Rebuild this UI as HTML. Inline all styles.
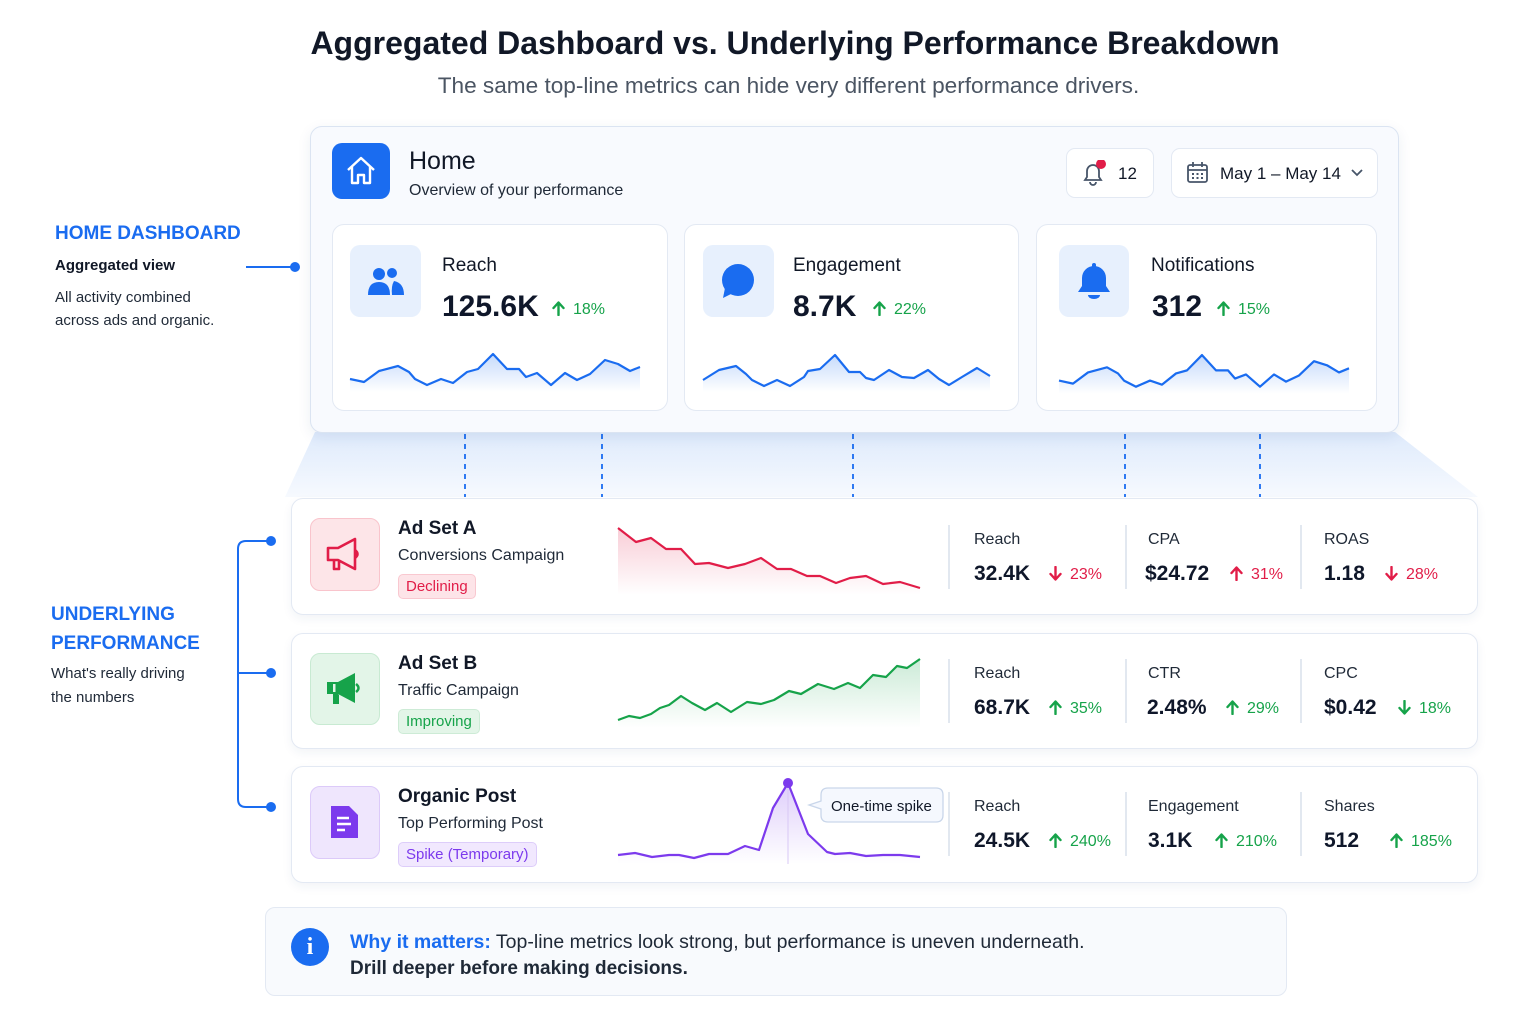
<!DOCTYPE html>
<html><head><meta charset="utf-8"><style>
*{margin:0;padding:0;box-sizing:border-box}
body{width:1536px;height:1024px;background:#fff;font-family:"Liberation Sans",sans-serif;color:#111827;position:relative;overflow:hidden}
.a{position:absolute}
.card{position:absolute;background:#fff;border:1.5px solid #e3e9f3;border-radius:12px}
.lbl{font-size:19px;color:#111827}
.val{font-size:30px;font-weight:bold;color:#0f172a}
.up{color:#16a34a;font-size:16px}
.dn{color:#e11d48;font-size:16px}
.ml{font-size:16px;color:#1f2937}
.mv{font-size:21px;font-weight:bold;color:#0f172a}
.row{position:absolute;left:291px;width:1187px;background:#fff;border:1.5px solid #e3e9f3;border-radius:12px;box-shadow:0 4px 10px rgba(30,60,120,0.06)}
.vd{position:absolute;width:1.5px;background:#e2e8f0}
.ar{display:inline-block;width:13px;height:15px;margin-right:8px;vertical-align:-2px}
</style></head><body>
<svg width="0" height="0" style="position:absolute"><defs>
<g id="au"><path d="M6.5 14 V2 M1.5 7 L6.5 1.5 L11.5 7" fill="none" stroke="currentColor" stroke-width="2.4" stroke-linecap="round" stroke-linejoin="round"/></g>
<g id="ad"><path d="M6.5 1 V13 M1.5 8 L6.5 13.5 L11.5 8" fill="none" stroke="currentColor" stroke-width="2.4" stroke-linecap="round" stroke-linejoin="round"/></g>
</defs></svg>
<div class="a" style="left:0;width:1590px;top:25px;text-align:center;font-size:32px;font-weight:bold;color:#111827">Aggregated Dashboard vs. Underlying Performance Breakdown</div>
<div class="a" style="left:0;width:1577px;top:73px;text-align:center;font-size:22.6px;color:#4b5563">The same top-line metrics can hide very different performance drivers.</div>

<svg class="a" style="left:0;top:0" width="1536" height="1024">
<defs>
<linearGradient id="tg" x1="0" y1="0" x2="0" y2="1"><stop offset="0" stop-color="#d6e5fb"/><stop offset="1" stop-color="#f4f8fe"/></linearGradient>
<linearGradient id="bg" x1="0" y1="0" x2="0" y2="1"><stop offset="0" stop-color="#1a6cf0" stop-opacity=".25"/><stop offset="1" stop-color="#1a6cf0" stop-opacity="0"/></linearGradient>
<linearGradient id="rg" x1="0" y1="0" x2="0" y2="1"><stop offset="0" stop-color="#e11d48" stop-opacity=".22"/><stop offset="1" stop-color="#e11d48" stop-opacity="0"/></linearGradient>
<linearGradient id="gg" x1="0" y1="0" x2="0" y2="1"><stop offset="0" stop-color="#16a34a" stop-opacity=".22"/><stop offset="1" stop-color="#16a34a" stop-opacity="0"/></linearGradient>
<linearGradient id="pg" x1="0" y1="0" x2="0" y2="1"><stop offset="0" stop-color="#7c3aed" stop-opacity=".25"/><stop offset="1" stop-color="#7c3aed" stop-opacity="0"/></linearGradient>
</defs>
<path d="M315 432 L1395 432 L1478 497 L285 497 Z" fill="url(#tg)" opacity=".8"/>
<g stroke="#1a6cf0" stroke-width="1.8" stroke-dasharray="5,5">
<line x1="465" y1="434" x2="465" y2="497"/><line x1="602" y1="434" x2="602" y2="497"/><line x1="853" y1="434" x2="853" y2="497"/><line x1="1125" y1="434" x2="1125" y2="497"/><line x1="1260" y1="434" x2="1260" y2="497"/>
</g>
<line x1="246" y1="267" x2="295" y2="267" stroke="#1a6cf0" stroke-width="2"/><circle cx="295" cy="267" r="5" fill="#1a6cf0"/>
<path d="M271 541 H246 Q238 541 238 549 V799 Q238 807 246 807 H271 M238 673 H271" fill="none" stroke="#1a6cf0" stroke-width="2"/>
<circle cx="271" cy="541" r="5" fill="#1a6cf0"/><circle cx="271" cy="673" r="5" fill="#1a6cf0"/><circle cx="271" cy="807" r="5" fill="#1a6cf0"/>
</svg>

<div class="a" style="left:55px;top:223px;font-size:19px;font-weight:bold;color:#1a6cf0">HOME DASHBOARD</div>
<div class="a" style="left:55px;top:257px;font-size:15px;font-weight:bold">Aggregated view</div>
<div class="a" style="left:55px;top:286px;font-size:15px;line-height:23px;color:#1f2937">All activity combined<br>across ads and organic.</div>
<div class="a" style="left:51px;top:600px;font-size:19px;font-weight:bold;color:#1a6cf0;line-height:29px">UNDERLYING<br>PERFORMANCE</div>
<div class="a" style="left:51px;top:662px;font-size:15px;line-height:24px;color:#1f2937">What's really driving<br>the numbers</div>

<div class="a" style="left:310px;top:126px;width:1089px;height:307px;background:#f8fafe;border:1.5px solid #dbe4f2;border-radius:12px;box-shadow:0 4px 14px rgba(30,60,120,.08)"></div>
<div class="a" style="left:332px;top:143px;width:58px;height:56px;background:#1a6cf0;border-radius:10px"></div>
<svg class="a" style="left:343px;top:153px" width="36" height="36" viewBox="0 0 36 36"><path d="M5 17 L18 5 L31 17 M9 14 V30 H15 V22 H21 V30 H27 V14" fill="none" stroke="#fff" stroke-width="2.4" stroke-linejoin="round"/></svg>
<div class="a" style="left:409px;top:147px;font-size:25px">Home</div>
<div class="a" style="left:409px;top:182px;font-size:16px;color:#1f2937">Overview of your performance</div>
<div class="a" style="left:1066px;top:148px;width:88px;height:50px;background:#fff;border:1.5px solid #e3e9f3;border-radius:9px"></div>
<svg class="a" style="left:1080px;top:160px" width="28" height="28"><path d="M5 20 H21 L19 17 V11 A6 6 0 0 0 7 11 V17 Z M10 22 A3 3 0 0 0 16 22" fill="none" stroke="#475569" stroke-width="1.8"/><circle cx="21" cy="4" r="5" fill="#e11d48"/></svg>
<div class="a" style="left:1118px;top:164px;font-size:17px">12</div>
<div class="a" style="left:1171px;top:148px;width:207px;height:50px;background:#fff;border:1.5px solid #e3e9f3;border-radius:9px"></div>
<svg class="a" style="left:1186px;top:161px" width="24" height="24"><rect x="2" y="4" width="19" height="17" rx="2" fill="none" stroke="#475569" stroke-width="1.8"/><line x1="2" y1="9" x2="21" y2="9" stroke="#475569" stroke-width="1.8"/><line x1="7" y1="1" x2="7" y2="6" stroke="#475569" stroke-width="1.8"/><line x1="16" y1="1" x2="16" y2="6" stroke="#475569" stroke-width="1.8"/><g fill="#475569"><rect x="6" y="12" width="2" height="2"/><rect x="10.5" y="12" width="2" height="2"/><rect x="15" y="12" width="2" height="2"/><rect x="6" y="16" width="2" height="2"/><rect x="10.5" y="16" width="2" height="2"/><rect x="15" y="16" width="2" height="2"/></g></svg>
<div class="a" style="left:1220px;top:164px;font-size:17px">May 1 – May 14</div>
<svg class="a" style="left:1350px;top:166px" width="14" height="14"><path d="M2 4 L7 9 L12 4" fill="none" stroke="#475569" stroke-width="1.8"/></svg>

<div class="card" style="left:332px;top:224px;width:336px;height:187px"></div>
<div class="card" style="left:684px;top:224px;width:335px;height:187px"></div>
<div class="card" style="left:1036px;top:224px;width:341px;height:187px"></div>
<div class="a" style="left:350px;top:245px;width:71px;height:72px;background:#e7f0fd;border-radius:10px"></div>
<div class="a" style="left:703px;top:245px;width:71px;height:72px;background:#e7f0fd;border-radius:10px"></div>
<div class="a" style="left:1059px;top:245px;width:70px;height:72px;background:#e7f0fd;border-radius:10px"></div>
<svg class="a" style="left:366px;top:264px" width="40" height="34"><circle cx="13" cy="10" r="6" fill="#1a6cf0"/><circle cx="26" cy="9" r="5" fill="#1a6cf0"/><path d="M2 31 Q2 18 13 18 Q24 18 24 31 Z" fill="#1a6cf0"/><path d="M26 31 H38 Q38 19 28 17 Q25 22 26 31Z" fill="#1a6cf0"/></svg>
<svg class="a" style="left:719px;top:263px" width="40" height="36"><circle cx="19" cy="17" r="16" fill="#1a6cf0"/><path d="M6 25 L4 35 L14 30Z" fill="#1a6cf0"/></svg>
<svg class="a" style="left:1076px;top:262px" width="36" height="40"><path d="M2 30 H34 L30 24 V16 A12 12 0 0 0 6 16 V24 Z" fill="#1a6cf0"/><rect x="16" y="1" width="4" height="5" rx="2" fill="#1a6cf0"/><path d="M12 33 A6 4 0 0 0 24 33Z" fill="#1a6cf0"/></svg>
<div class="a lbl" style="left:442px;top:255px">Reach</div>
<div class="a lbl" style="left:793px;top:255px">Engagement</div>
<div class="a lbl" style="left:1151px;top:255px">Notifications</div>
<div class="a val" style="left:442px;top:290px">125.6K</div><div class="a up" style="left:552px;top:301px"><svg class="ar"><use href="#au"/></svg>18%</div>
<div class="a val" style="left:793px;top:290px">8.7K</div><div class="a up" style="left:873px;top:301px"><svg class="ar"><use href="#au"/></svg>22%</div>
<div class="a val" style="left:1152px;top:290px">312</div><div class="a up" style="left:1217px;top:301px"><svg class="ar"><use href="#au"/></svg>15%</div>

<svg class="a" style="left:0;top:0" width="1536" height="1024">
<g id="rs">
<path d="M350 379 L364 382 L379 371 L398 366 L409 372 L415 379 L427 385 L441 379 L453 383 L467 372 L478 369 L493 354 L507 369 L519 369 L526 377 L537 373 L551 385 L565 373 L577 380 L590 374 L605 360 L618 364 L630 371 L640 367 L640 392 L350 392 Z" fill="url(#bg)"/>
<path d="M350 379 L364 382 L379 371 L398 366 L409 372 L415 379 L427 385 L441 379 L453 383 L467 372 L478 369 L493 354 L507 369 L519 369 L526 377 L537 373 L551 385 L565 373 L577 380 L590 374 L605 360 L618 364 L630 371 L640 367" fill="none" stroke="#1a6cf0" stroke-width="2.2" stroke-linejoin="round"/>
</g>
<use href="#rs" transform="translate(709,-6) scale(1,1.02)"/>
<path d="M703 380 L719 370 L736 366 L746 374 L752 380 L764 386 L777 380 L790 386 L804 377 L808 371 L820 369 L835 355 L849 372 L860 372 L866 378 L874 380 L889 370 L902 377 L914 378 L928 370 L939 379 L949 385 L962 377 L977 368 L990 376 L990 392 L703 392Z" fill="url(#bg)"/>
<path d="M703 380 L719 370 L736 366 L746 374 L752 380 L764 386 L777 380 L790 386 L804 377 L808 371 L820 369 L835 355 L849 372 L860 372 L866 378 L874 380 L889 370 L902 377 L914 378 L928 370 L939 379 L949 385 L962 377 L977 368 L990 376" fill="none" stroke="#1a6cf0" stroke-width="2.2" stroke-linejoin="round"/>
</svg>

<div class="row" style="top:498px;height:117px"></div>
<div class="row" style="top:633px;height:116px"></div>
<div class="row" style="top:766px;height:117px"></div>

<div class="a" style="left:310px;top:518px;width:70px;height:73px;background:#fde5e8;border:1.5px solid #f9c4cc;border-radius:10px"></div>
<div class="a" style="left:310px;top:653px;width:70px;height:72px;background:#e3f5e8;border:1.5px solid #c8ead2;border-radius:10px"></div>
<div class="a" style="left:310px;top:786px;width:70px;height:73px;background:#efe6fd;border:1.5px solid #dccaf9;border-radius:10px"></div>
<svg class="a" style="left:325px;top:537px" width="40" height="36"><path d="M3 11 H13 L30 2 V32 L13 23 H3 Z M9 23 V32 H14 V23 M30 13 Q35 17 30 21" fill="none" stroke="#e11d48" stroke-width="2.6" stroke-linejoin="round"/></svg>
<svg class="a" style="left:325px;top:672px" width="40" height="36"><path d="M2 10 H13 L30 1 V31 L13 22 H2 Z M8 22 V32 H14 V22" fill="#16a34a"/><path d="M31 12 Q36 16 31 20" fill="none" stroke="#16a34a" stroke-width="2.5"/><rect x="8" y="12" width="2.5" height="8" fill="#e3f5e8"/></svg>
<svg class="a" style="left:329px;top:804px" width="32" height="36"><path d="M2 2 H20 L29 11 V34 H2Z" fill="#7c3aed"/><g stroke="#fff" stroke-width="2.5"><line x1="8" y1="14" x2="20" y2="14"/><line x1="8" y1="20" x2="22" y2="20"/><line x1="8" y1="26" x2="16" y2="26"/></g></svg>

<div class="a" style="left:398px;top:518px;font-size:19px;font-weight:bold">Ad Set A</div>
<div class="a" style="left:398px;top:547px;font-size:16px;color:#1f2937">Conversions Campaign</div>
<div class="a" style="left:398px;top:574px;padding:3px 7px;font-size:15px;color:#e11d48;background:#fde4e8;border:1px solid #f9c8d0;border-radius:5px">Declining</div>
<div class="a" style="left:398px;top:653px;font-size:19px;font-weight:bold">Ad Set B</div>
<div class="a" style="left:398px;top:682px;font-size:16px;color:#1f2937">Traffic Campaign</div>
<div class="a" style="left:398px;top:709px;padding:3px 7px;font-size:15px;color:#16a34a;background:#e3f5e8;border:1px solid #cdebd6;border-radius:5px">Improving</div>
<div class="a" style="left:398px;top:786px;font-size:19px;font-weight:bold">Organic Post</div>
<div class="a" style="left:398px;top:815px;font-size:16px;color:#1f2937">Top Performing Post</div>
<div class="a" style="left:398px;top:842px;padding:3px 7px;font-size:15px;color:#7c3aed;background:#f1e8fe;border:1px solid #ddcdfa;border-radius:5px">Spike (Temporary)</div>

<svg class="a" style="left:0;top:0" width="1536" height="1024">
<path d="M618 528 L636 542 L651 538 L666 549 L681 549 L695 564 L709 563 L728 568 L745 564 L761 558 L777 569 L791 569 L807 576 L820 576 L836 583 L850 578 L866 576 L883 584 L900 582 L920 588 L920 595 L618 595Z" fill="url(#rg)"/>
<path d="M618 528 L636 542 L651 538 L666 549 L681 549 L695 564 L709 563 L728 568 L745 564 L761 558 L777 569 L791 569 L807 576 L820 576 L836 583 L850 578 L866 576 L883 584 L900 582 L920 588" fill="none" stroke="#e11d48" stroke-width="2.2" stroke-linejoin="round"/>
<path d="M618 720 L629 716 L640 718 L651 714 L660 708 L669 705 L681 696 L692 703 L705 710 L717 703 L731 712 L747 702 L761 704 L774 700 L789 691 L801 694 L818 684 L834 689 L848 683 L860 688 L873 675 L886 677 L897 666 L907 668 L920 659 L920 728 L618 728Z" fill="url(#gg)"/>
<path d="M618 720 L629 716 L640 718 L651 714 L660 708 L669 705 L681 696 L692 703 L705 710 L717 703 L731 712 L747 702 L761 704 L774 700 L789 691 L801 694 L818 684 L834 689 L848 683 L860 688 L873 675 L886 677 L897 666 L907 668 L920 659" fill="none" stroke="#16a34a" stroke-width="2.2" stroke-linejoin="round"/>
<path d="M618 855 L635 853 L652 857 L669 855 L679 855 L694 858 L709 854 L728 854 L745 846 L759 850 L773 808 L788 783 L808 834 L827 852 L835 854 L850 853 L866 856 L883 855 L900 855 L920 857 L920 864 L618 864Z" fill="url(#pg)"/>
<line x1="788" y1="783" x2="788" y2="864" stroke="#d8c8f5" stroke-width="1"/>
<path d="M618 855 L635 853 L652 857 L669 855 L679 855 L694 858 L709 854 L728 854 L745 846 L759 850 L773 808 L788 783 L808 834 L827 852 L835 854 L850 853 L866 856 L883 855 L900 855 L920 857" fill="none" stroke="#7c3aed" stroke-width="2.2" stroke-linejoin="round"/>
<circle cx="788" cy="783" r="5" fill="#7c3aed"/>
<path d="M821 795 Q821 788 828 788 H936 Q943 788 943 795 V815 Q943 822 936 822 H828 Q821 822 821 815 V809 L809 805 L821 801 Z" fill="#f5f8fe" stroke="#c9d6ea" stroke-width="1.3"/>
<text x="831" y="811" font-family="Liberation Sans" font-size="15" fill="#111827">One-time spike</text>
</svg>

<div class="vd" style="left:948px;top:525px;height:64px"></div><div class="vd" style="left:1125px;top:525px;height:64px"></div><div class="vd" style="left:1300px;top:525px;height:64px"></div>
<div class="vd" style="left:948px;top:659px;height:64px"></div><div class="vd" style="left:1125px;top:659px;height:64px"></div><div class="vd" style="left:1300px;top:659px;height:64px"></div>
<div class="vd" style="left:948px;top:792px;height:64px"></div><div class="vd" style="left:1125px;top:792px;height:64px"></div><div class="vd" style="left:1300px;top:792px;height:64px"></div>

<div class="a ml" style="left:974px;top:531px">Reach</div><div class="a mv" style="left:974px;top:562px">32.4K</div><div class="a dn" style="left:1049px;top:566px"><svg class="ar"><use href="#ad"/></svg>23%</div>
<div class="a ml" style="left:1148px;top:531px">CPA</div><div class="a mv" style="left:1145px;top:562px">$24.72</div><div class="a dn" style="left:1230px;top:566px"><svg class="ar"><use href="#au"/></svg>31%</div>
<div class="a ml" style="left:1324px;top:531px">ROAS</div><div class="a mv" style="left:1324px;top:562px">1.18</div><div class="a dn" style="left:1385px;top:566px"><svg class="ar"><use href="#ad"/></svg>28%</div>

<div class="a ml" style="left:974px;top:665px">Reach</div><div class="a mv" style="left:974px;top:696px">68.7K</div><div class="a up" style="left:1049px;top:700px"><svg class="ar"><use href="#au"/></svg>35%</div>
<div class="a ml" style="left:1148px;top:665px">CTR</div><div class="a mv" style="left:1147px;top:696px">2.48%</div><div class="a up" style="left:1226px;top:700px"><svg class="ar"><use href="#au"/></svg>29%</div>
<div class="a ml" style="left:1324px;top:665px">CPC</div><div class="a mv" style="left:1324px;top:696px">$0.42</div><div class="a up" style="left:1398px;top:700px"><svg class="ar"><use href="#ad"/></svg>18%</div>

<div class="a ml" style="left:974px;top:798px">Reach</div><div class="a mv" style="left:974px;top:829px">24.5K</div><div class="a up" style="left:1049px;top:833px"><svg class="ar"><use href="#au"/></svg>240%</div>
<div class="a ml" style="left:1148px;top:798px">Engagement</div><div class="a mv" style="left:1148px;top:829px">3.1K</div><div class="a up" style="left:1215px;top:833px"><svg class="ar"><use href="#au"/></svg>210%</div>
<div class="a ml" style="left:1324px;top:798px">Shares</div><div class="a mv" style="left:1324px;top:829px">512</div><div class="a up" style="left:1390px;top:833px"><svg class="ar"><use href="#au"/></svg>185%</div>

<div class="a" style="left:265px;top:907px;width:1022px;height:89px;background:#f8fafd;border:1.5px solid #e3e9f3;border-radius:10px"></div>
<div class="a" style="left:291px;top:928px;width:38px;height:38px;border-radius:50%;background:#1a6cf0;color:#fff;font-size:24px;font-weight:bold;text-align:center;line-height:38px;font-family:'Liberation Serif',serif">i</div>
<div class="a" style="left:350px;top:931px;font-size:19.5px;color:#1f2937"><b style="color:#1a6cf0">Why it matters:</b> Top-line metrics look strong, but performance is uneven underneath.</div>
<div class="a" style="left:350px;top:958px;font-size:19px;font-weight:bold;color:#1f2937">Drill deeper before making decisions.</div>
</body></html>
